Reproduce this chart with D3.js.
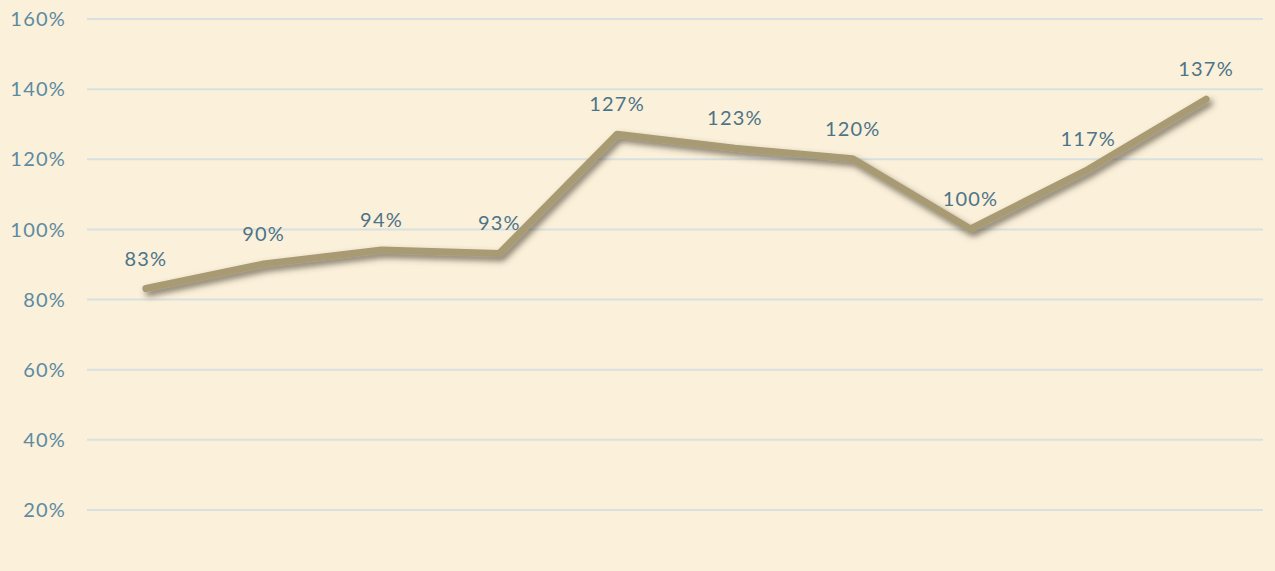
<!DOCTYPE html>
<html>
<head>
<meta charset="utf-8">
<script src="https://cdn.jsdelivr.net/npm/d3@7"></script>
<style>
  body { margin: 0; background: #FBF0DA; }
  svg { display: block; }
  text { font-family: "Century Gothic", "Lato", sans-serif; letter-spacing: 1.2px; }
</style>
</head>
<body>
<svg id="chart"></svg>
<script>
var categories = ["1","2","3","4","5","6","7","8","9","10"]
var values = [83, 90, 94, 93, 127, 123, 120, 100, 117, 137]
var yTicks = [20, 40, 60, 80, 100, 120, 140, 160]

var screen = {width:1275, height:571}
var margins = {top:18.5, left:87, right:10}

var svg = d3.select("#chart")
    .attr("width",screen.width)
    .attr("height",screen.height)

// soft drop shadow under the line
var filter = svg.append("defs")
    .append("filter")
    .attr("id","shadow")
    .attr("x","-10%").attr("y","-20%")
    .attr("width","120%").attr("height","160%")
filter.append("feDropShadow")
    .attr("dx",3)
    .attr("dy",4)
    .attr("stdDeviation",3)
    .attr("flood-color","#4a4234")
    .attr("flood-opacity",0.7)

var xScale = d3.scalePoint()
    .domain(categories)
    .range([margins.left, screen.width-margins.right])
    .padding(0.5)

var yScale = d3.scaleLinear()
    .domain([20,160])
    .range([509.5, margins.top])

var yAxis = d3.axisLeft(yScale)
    .tickValues(yTicks)
    .tickSize(-(screen.width-margins.right-margins.left-2))
    .tickPadding(21)
    .tickFormat(function(d){ return d+"%"; })

var axis = svg.append("g")
    .attr("transform","translate("+margins.left+",0)")
    .call(yAxis)

axis.select(".domain").remove()
axis.selectAll(".tick line")
    .attr("stroke","#D9E0E0")
    .attr("stroke-width",2)
axis.selectAll(".tick text")
    .attr("fill","#5B8BA2")
    .attr("font-size",20)
    .attr("dy","0.36em")

var line = d3.line()
    .x(function(d,i){ return xScale(categories[i]); })
    .y(function(d){ return yScale(d); })

svg.append("path")
    .datum(values)
    .attr("d",line)
    .attr("fill","none")
    .attr("stroke","#A89B73")
    .attr("stroke-width",7)
    .attr("stroke-linejoin","round")
    .attr("stroke-linecap","round")
    .attr("filter","url(#shadow)")

svg.selectAll(".label")
    .data(values)
    .enter()
    .append("text")
    .classed("label",true)
    .attr("x",function(d,i){ return xScale(categories[i]); })
    .attr("y",function(d){ return yScale(d)-23; })
    .attr("text-anchor","middle")
    .attr("fill","#4D7488")
    .attr("font-size",20)
    .text(function(d){ return d+"%"; })
</script>
</body>
</html>
